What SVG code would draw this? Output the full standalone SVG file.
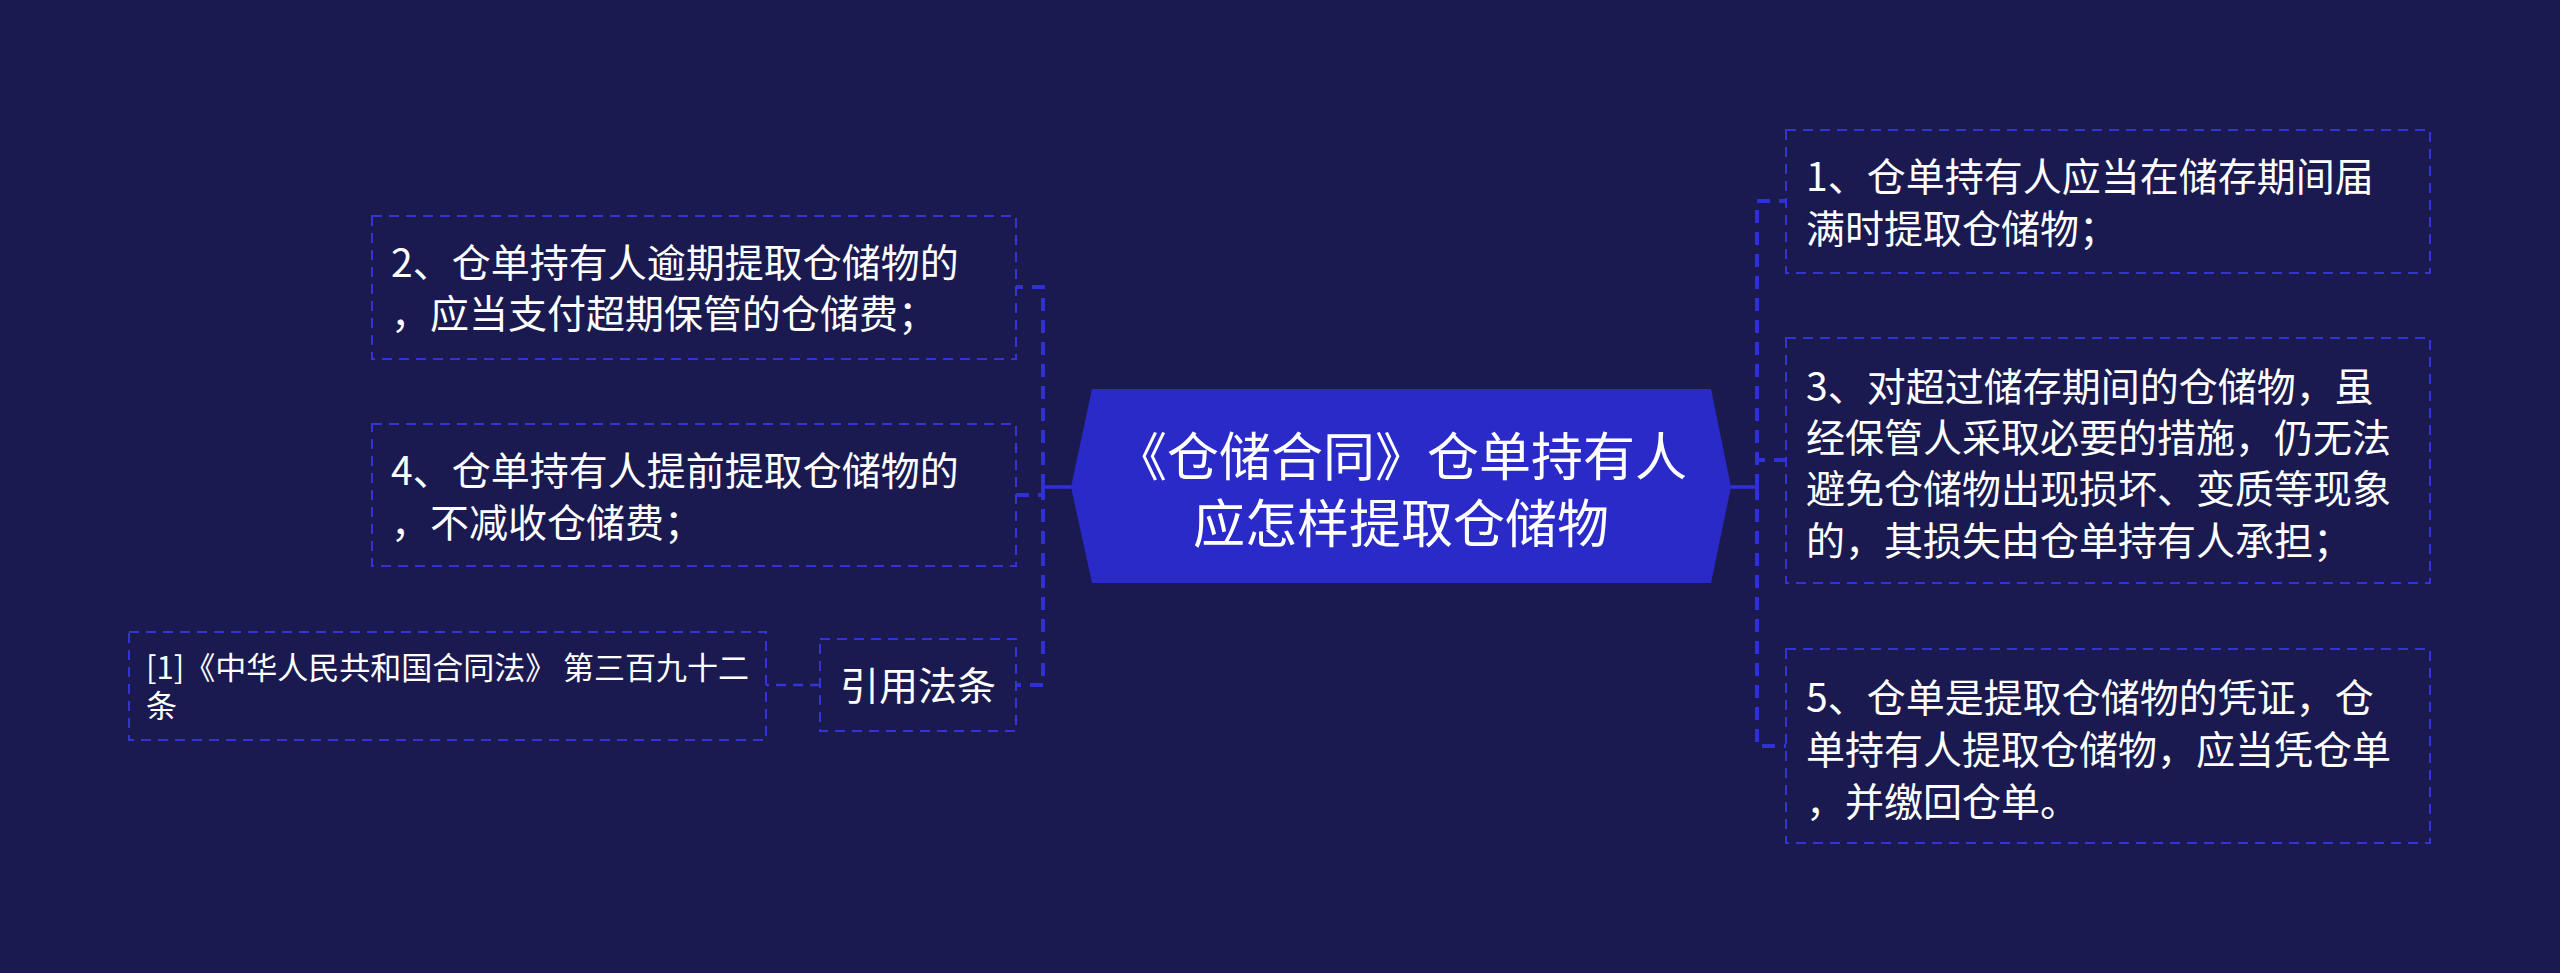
<svg xmlns="http://www.w3.org/2000/svg" width="2560" height="973" viewBox="0 0 2560 973">
<style>
.box{fill:#1a1a50;stroke:#3434d4;stroke-width:2;stroke-dasharray:10 7}
.t{font-family:"Noto Sans CJK SC","Noto Sans",sans-serif;fill:#ffffff;font-size:39px}
.ts{font-size:31px}
.tt{font-size:52px;text-anchor:middle}
.c{fill:none;stroke:#3030d8;stroke-width:4;stroke-dasharray:13 9}
.cs{fill:none;stroke:#3030d8;stroke-width:3.5}
.cl{fill:none;stroke:#3434d4;stroke-width:2.5;stroke-dasharray:10 7}
</style>
<rect width="2560" height="973" fill="#1a1a50"/>
<g id="connectors">
<path class="cs" d="M1071 487 H1043"/>
<path class="c" d="M1043 487 V287 H1016"/>
<path class="c" d="M1043 487 V495 H1016"/>
<path class="c" d="M1043 487 V685 H1016"/>
<path class="cs" d="M1731 487 H1757"/>
<path class="c" d="M1757 487 V201 H1786"/>
<path class="c" d="M1757 487 V460 H1786"/>
<path class="c" d="M1757 487 V746 H1786"/>
<path class="cl" d="M820 685 H766"/>
</g>
<g id="center">
<polygon points="1071,487 1092,389 1711,389 1731,487 1711,583 1092,583" fill="#2a2ac8"/>
<text class="t tt" x="1401" y="476">《仓储合同》仓单持有人</text>
<text class="t tt" x="1401" y="543">应怎样提取仓储物</text>
</g>
<g id="node2">
<rect class="box" x="372" y="216" width="644" height="143"/>
<text class="t" x="391" y="277">2、仓单持有人逾期提取仓储物的</text>
<text class="t" x="391" y="328">，应当支付超期保管的仓储费；</text>
</g>
<g id="node4">
<rect class="box" x="372" y="424" width="644" height="142"/>
<text class="t" x="391" y="485">4、仓单持有人提前提取仓储物的</text>
<text class="t" x="391" y="537">，不减收仓储费；</text>
</g>
<g id="law">
<rect class="box" x="820" y="639" width="196" height="92"/>
<text class="t" x="918" y="700" text-anchor="middle">引用法条</text>
</g>
<g id="lawref">
<rect class="box" x="129" y="632" width="637" height="108"/>
<text class="t ts" x="146" y="679">[1]《中华人民共和国合同法》 第三百九十二</text>
<text class="t ts" x="146" y="717">条</text>
</g>
<g id="node1">
<rect class="box" x="1786" y="130" width="644" height="143"/>
<text class="t" x="1806" y="191">1、仓单持有人应当在储存期间届</text>
<text class="t" x="1806" y="243">满时提取仓储物；</text>
</g>
<g id="node3">
<rect class="box" x="1786" y="338" width="644" height="245"/>
<text class="t" x="1806" y="401">3、对超过储存期间的仓储物，虽</text>
<text class="t" x="1806" y="452">经保管人采取必要的措施，仍无法</text>
<text class="t" x="1806" y="503">避免仓储物出现损坏、变质等现象</text>
<text class="t" x="1806" y="555">的，其损失由仓单持有人承担；</text>
</g>
<g id="node5">
<rect class="box" x="1786" y="649" width="644" height="194"/>
<text class="t" x="1806" y="712">5、仓单是提取仓储物的凭证，仓</text>
<text class="t" x="1806" y="764">单持有人提取仓储物，应当凭仓单</text>
<text class="t" x="1806" y="816">，并缴回仓单。</text>
</g>
</svg>
